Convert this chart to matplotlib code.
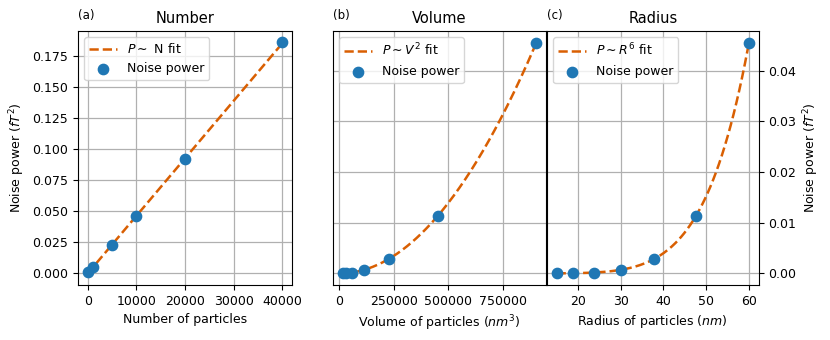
import numpy as np
import matplotlib.pyplot as plt

# panel (a): noise power vs number of particles
number = [100, 1000, 5000, 10000, 20000, 40000]
power_number = [0.0005, 0.0046, 0.0229, 0.0458, 0.0917, 0.1862]

# panels (b) and (c): noise power vs particle size
radius = [15.0, 18.9, 23.8, 30.0, 37.8, 47.6, 60.0]
power_size = [0.00001, 0.00004, 0.00018, 0.00071, 0.00284, 0.01138, 0.04553]

blue = '#1f77b4'
orange = '#d95f02'

volume = [4 / 3 * np.pi * r ** 3 for r in radius]

fig = plt.figure(figsize=(8.3, 3.4), dpi=100)
ax1 = fig.add_axes([0.094, 0.162, 0.258, 0.747])
ax2 = fig.add_axes([0.401, 0.162, 0.257, 0.747])
ax3 = fig.add_axes([0.659, 0.162, 0.255, 0.747], sharey=ax2)

# linear fit through origin
k = np.polyfit(number, power_number, 1)
xn = np.linspace(0, max(number), 100)
ax1.plot(xn, np.polyval(k, xn), '--', color=orange, lw=1.8, label=r'$P\sim$ N fit')
ax1.scatter(number, power_number, s=55, color=blue, label='Noise power', zorder=3)
ax1.set_xlabel('Number of particles', fontsize=9)
ax1.set_ylabel(r'Noise power ($fT^2$)', fontsize=9)
ax1.set_xticks([0, 10000, 20000, 30000, 40000])

v = np.array(volume)
p = np.array(power_size)
a_v = np.sum(p * v ** 2) / np.sum(v ** 4)
xv = np.linspace(v.min(), v.max(), 200)
ax2.plot(xv, a_v * xv ** 2, '--', color=orange, lw=1.8, label=r'$P\sim V^2$ fit')
ax2.scatter(volume, power_size, s=55, color=blue, label='Noise power', zorder=3)
ax2.set_xlabel(r'Volume of particles ($nm^3$)', fontsize=9)
ax2.set_xticks([0, 250000, 500000, 750000])
ax2.tick_params(axis='y', labelleft=False, left=False)

r = np.array(radius)
a_r = np.sum(p * r ** 6) / np.sum(r ** 12)
xr = np.linspace(r.min(), r.max(), 200)
ax3.plot(xr, a_r * xr ** 6, '--', color=orange, lw=1.8, label=r'$P\sim R^6$ fit')
ax3.scatter(radius, power_size, s=55, color=blue, label='Noise power', zorder=3)
ax3.set_xlabel(r'Radius of particles ($nm$)', fontsize=9)
ax3.set_ylabel(r'Noise power ($fT^2$)', fontsize=9)
ax3.yaxis.set_label_position('right')
ax3.yaxis.tick_right()
ax3.tick_params(axis='y', labelleft=False, left=False, labelright=True)
ax3.set_xticks([20, 30, 40, 50, 60])
ax3.set_yticks([0, 0.01, 0.02, 0.03, 0.04])

for ax, tag, title in [(ax1, '(a)', 'Number'), (ax2, '(b)', 'Volume'), (ax3, '(c)', 'Radius')]:
    ax.grid(True, color='#b0b0b0', lw=0.9)
    ax.set_axisbelow(True)
    ax.tick_params(labelsize=9)
    ax.set_title(title, fontsize=10.5)
    ax.text(0.0, 1.035, tag, transform=ax.transAxes, fontsize=8.5, ha='left', va='bottom')
    ax.legend(loc='upper left', fontsize=9, handlelength=2.2)

fig.savefig('out.png', dpi=100)
